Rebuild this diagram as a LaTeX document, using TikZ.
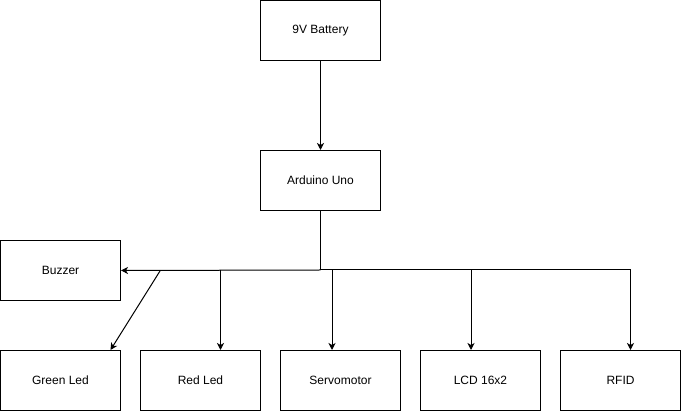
\documentclass[tikz,border=0pt]{standalone}
\usepackage{fontspec}
\setmainfont{Liberation Sans}
\usetikzlibrary{arrows.meta}
\begin{document}
\begin{tikzpicture}[x=1pt,y=-1pt]

    \tikzset{
      block/.style={
        draw,
        line width=1pt,
        minimum width=120pt,
        minimum height=60pt,
        inner sep=0pt,
        font=\fontsize{12}{14}\selectfont,
      },
      wire/.style={
        line width=1pt,
      },
      feed/.style={
        line width=1pt,
        -{Stealth[length=7pt,width=7pt,inset=2pt]},
      },
    }
    \useasboundingbox (0,0) rectangle (681,411);
    % blocks
    \node[block] (battery) at (320.5,30.5) {9V Battery};
    \node[block] (arduino) at (320.5,180.5) {Arduino Uno};
    \node[block] (buzzer) at (60.5,270.5) {Buzzer};
    \node[block] (green) at (60.5,380.5) {Green Led};
    \node[block] (red) at (200.5,380.5) {Red Led};
    \node[block] (servo) at (340.5,380.5) {Servomotor};
    \node[block] (lcd) at (480.5,380.5) {LCD 16x2};
    \node[block] (rfid) at (620.5,380.5) {RFID};
    % bus
    \coordinate (hub) at (320.5,270);
    \coordinate (tapgreen) at (160,271);
    \coordinate (tapred) at (220.5,270);
    \coordinate (tapservo) at (332,270);
    \coordinate (taplcd) at (471,270);
    \coordinate (taprfid) at (630.5,270);
    \draw[feed] (battery) -- (arduino);
    \draw[wire] (arduino.south) -- (hub);
    \draw[feed] (hub) -- (buzzer.east);
    \draw[wire] (hub) -- (taprfid);
    \draw[feed] (tapgreen) -- ([xshift=50pt]green.north);
    \draw[feed] (tapred) -- (tapred |- red.north);
    \draw[feed] (tapservo) -- (tapservo |- servo.north);
    \draw[feed] (taplcd) -- (taplcd |- lcd.north);
    \draw[feed] (taprfid) -- (taprfid |- rfid.north);

\end{tikzpicture}
\end{document}
